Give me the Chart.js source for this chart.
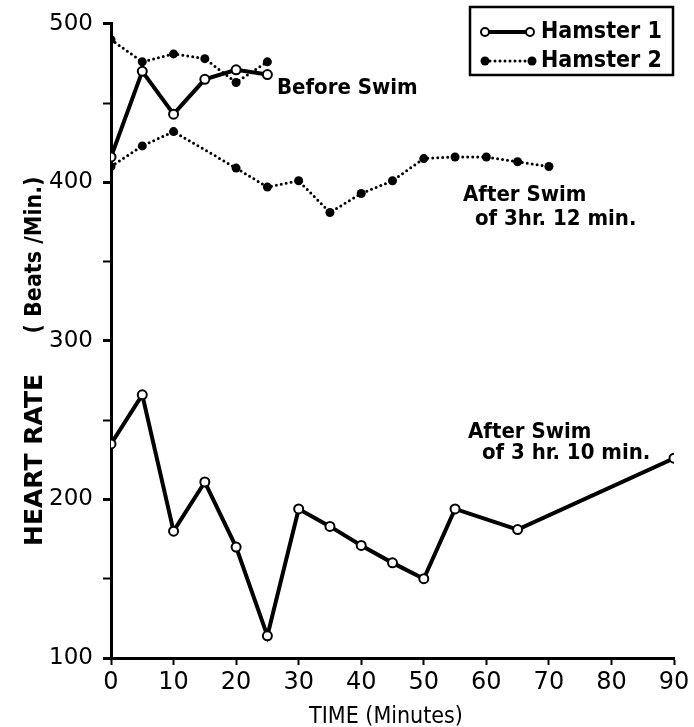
<!DOCTYPE html>
<html>
<head>
<meta charset="utf-8">
<script src="https://cdn.jsdelivr.net/npm/chart.js@4.4.1/dist/chart.umd.min.js"></script>
<style>
  html, body { margin: 0; padding: 0; background: #fff; }
  #wrap { width: 694px; height: 727px; }
</style>
</head>
<body>
<div id="wrap"><canvas id="heartChart" width="694" height="727"></canvas></div>
<script>
// values
const h1BeforeTime = [0, 5, 10, 15, 20, 25];
const h1BeforeRate = [416, 470, 443, 465, 471, 468];
const h1AfterTime = [0, 5, 10, 15, 20, 25, 30, 35, 40, 45, 50, 55, 65, 90];
const h1AfterRate = [235, 266, 180, 211, 170, 114, 194, 183, 171, 160, 150, 194, 181, 226];
const h2BeforeTime = [0, 5, 10, 15, 20, 25];
const h2BeforeRate = [490, 476, 481, 478, 463, 476];
const h2AfterTime = [0, 5, 10, 20, 25, 30, 35, 40, 45, 50, 55, 60, 65, 70];
const h2AfterRate = [410, 423, 432, 409, 397, 401, 381, 393, 401, 415, 416, 416, 413, 410];
const xTicks = [0, 10, 20, 30, 40, 50, 60, 70, 80, 90];
const yTicks = [100, 200, 300, 400, 500];

const FONT = "'DejaVu Sans', sans-serif";
const NARROW = "'DejaVu Sans Condensed', 'DejaVu Sans', sans-serif";

function pts(xs, ys) {
    return xs.map((x, i) => ({ x: x, y: ys[i] }));
}

const hamster1 = {
    borderColor: "#000",
    borderWidth: 4,
    pointRadius: 4.5,
    pointBorderWidth: 2,
    pointBackgroundColor: "#fff",
    pointBorderColor: "#000",
    tension: 0
};
const hamster2 = {
    borderColor: "#000",
    borderWidth: 3,
    borderDash: [0, 5],
    borderCapStyle: "round",
    pointRadius: 4.5,
    pointBorderWidth: 0,
    pointBackgroundColor: "#000",
    tension: 0
};

// texts, legend and axis titles drawn on top of the chart
const decorations = {
    id: "decorations",
    afterDraw(chart) {
        const ctx = chart.ctx;
        ctx.save();
        ctx.fillStyle = "#000";
        ctx.strokeStyle = "#000";

        ctx.font = "bold 22px " + NARROW;
        ctx.textAlign = "left";
        ctx.textBaseline = "middle";
        ctx.fillText("Before Swim", 277, 88);
        ctx.fillText("After Swim", 463, 195);
        ctx.fillText("of 3hr. 12 min.", 475, 219);
        ctx.fillText("After Swim", 468, 432);
        ctx.fillText("of 3 hr. 10 min.", 482, 453);

        // legend box
        ctx.lineWidth = 2.5;
        ctx.setLineDash([]);
        ctx.strokeRect(470, 7, 203, 68);
        ctx.lineWidth = 4;
        ctx.beginPath();
        ctx.moveTo(485, 32);
        ctx.lineTo(530, 32);
        ctx.stroke();
        ctx.lineWidth = 2;
        [485, 530].forEach(x => {
            ctx.beginPath();
            ctx.arc(x, 32, 4, 0, Math.PI * 2);
            ctx.fillStyle = "#fff";
            ctx.fill();
            ctx.stroke();
        });
        ctx.fillStyle = "#000";
        ctx.lineWidth = 3;
        ctx.lineCap = "round";
        ctx.setLineDash([0, 5]);
        ctx.beginPath();
        ctx.moveTo(485, 61);
        ctx.lineTo(532, 61);
        ctx.stroke();
        ctx.setLineDash([]);
        [485, 532].forEach(x => {
            ctx.beginPath();
            ctx.arc(x, 61, 4.5, 0, Math.PI * 2);
            ctx.fill();
        });
        ctx.font = "bold 23px " + NARROW;
        ctx.fillText("Hamster 1", 541, 32);
        ctx.fillText("Hamster 2", 541, 61);

        // axis titles
        ctx.font = "23px " + NARROW;
        ctx.textAlign = "center";
        ctx.fillText("TIME (Minutes)", 386, 717);

        ctx.translate(35, 0);
        ctx.rotate(-Math.PI / 2);
        ctx.font = "bold 25px " + FONT;
        ctx.fillText("HEART RATE", -460, 0);
        ctx.font = "bold 23px " + NARROW;
        ctx.fillText("( Beats /Min.)", -255, 0);
        ctx.restore();
    }
};

new Chart(document.getElementById("heartChart"), {
    type: "line",
    data: {
        datasets: [
            Object.assign({ label: "Hamster 2 before", data: pts(h2BeforeTime, h2BeforeRate) }, hamster2),
            Object.assign({ label: "Hamster 2 after", data: pts(h2AfterTime, h2AfterRate) }, hamster2),
            Object.assign({ label: "Hamster 1 before", data: pts(h1BeforeTime, h1BeforeRate) }, hamster1),
            Object.assign({ label: "Hamster 1 after", data: pts(h1AfterTime, h1AfterRate) }, hamster1)
        ]
    },
    options: {
        responsive: false,
        animation: false,
        layout: { padding: { top: 22, right: 20, left: 0, bottom: 0 } },
        plugins: {
            legend: { display: false },
            tooltip: { enabled: false }
        },
        scales: {
            x: {
                type: "linear",
                min: 0,
                max: 90,
                afterBuildTicks: axis => { axis.ticks = xTicks.map(v => ({ value: v })); },
                afterFit: axis => { axis.height = 69; },
                border: { color: "#000", width: 3 },
                grid: { drawOnChartArea: false, color: "#000", tickLength: 7, tickWidth: 2 },
                ticks: { color: "#000", font: { family: FONT, size: 24 }, padding: 3, maxRotation: 0 }
            },
            y: {
                min: 100,
                max: 500,
                afterBuildTicks: axis => {
                    const t = [];
                    for (let v = 100; v <= 500; v += 50) t.push({ value: v });
                    axis.ticks = t;
                },
                afterFit: axis => { axis.width = 111; },
                border: { color: "#000", width: 3 },
                grid: {
                    drawOnChartArea: false,
                    color: "#000",
                    tickLength: 8,
                    tickWidth: c => (c.tick && c.tick.value % 100 === 0 ? 3 : 2)
                },
                ticks: {
                    color: "#000",
                    font: { family: FONT, size: 23 },
                    padding: 10,
                    callback: v => (yTicks.includes(v) ? String(v) : "")
                }
            }
        }
    },
    plugins: [decorations]
});
</script>
</body>
</html>
